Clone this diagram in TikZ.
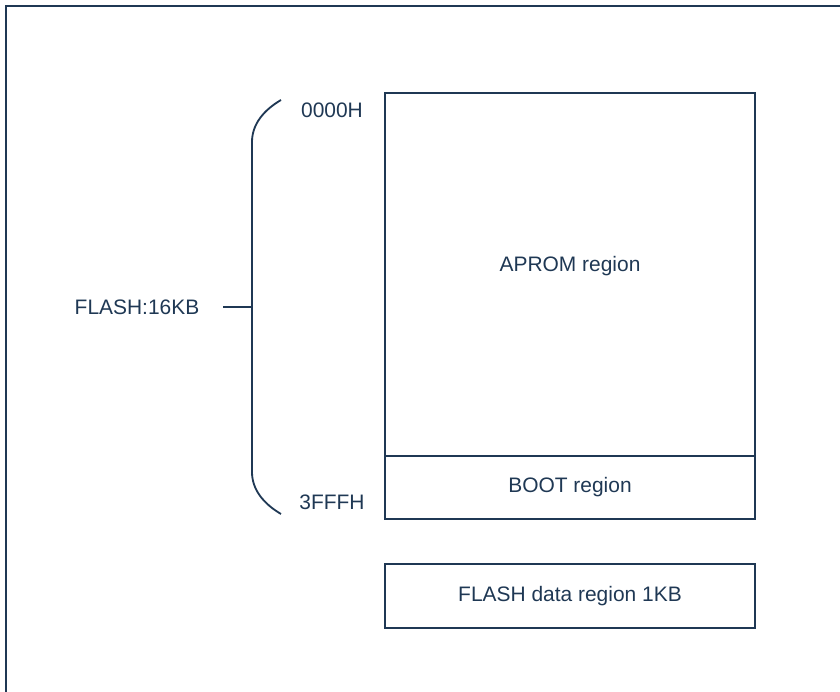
\documentclass[tikz,border=0pt]{standalone}
\usepackage{fontspec}
\setmainfont{Liberation Sans}
\definecolor{navy}{RGB}{31,56,84}
\tikzset{
  region/.style={draw=navy, line width=1.3pt, minimum width=9.25cm, inner sep=0pt},
  lbl/.style={text=navy, font=\fontsize{14.9}{18}\selectfont, inner sep=0pt}
}

\begin{document}
\begin{tikzpicture}[line width=1.3pt, navy]
		\useasboundingbox (0,0) rectangle (21,17.3);
		\clip (0,0) rectangle (21,17.3);
		\draw (0.15,-1) -- (0.15,17.15) -- (22,17.15);
		% memory map
		\node[region, minimum height=9.075cm] (aprom) at (14.25,10.4375) {};
		\node[lbl] (apromtext) at (14.25,10.65) {APROM region};
		\node[region, minimum height=1.575cm, lbl] (boot) at (14.25,5.1125) {BOOT region};
		\node[region, minimum height=1.6cm, lbl] (data) at (14.25,2.4) {FLASH data region 1KB};
		% addresses
		\node[lbl] (start) at (8.3,14.55) {0000H};
		\node[lbl] (end) at (8.3,4.75) {3FFFH};
		% brace
		\coordinate (bracetop) at (7.025,14.8);
		\coordinate (bracebot) at (7.025,4.45);
		\coordinate (bracemid) at (6.3,9.625);
		\draw (bracetop) .. controls (6.6,14.55) and (6.3,14.2) .. (6.3,13.75) -- (6.3,5.5) .. controls (6.3,5.05) and (6.6,4.7) .. (bracebot);
		\node[lbl] (flash) at (3.425,9.625) {FLASH:16KB};
		\coordinate (tick) at (5.575,9.625);
		\draw (tick) -- (bracemid);
\end{tikzpicture}
\end{document}
